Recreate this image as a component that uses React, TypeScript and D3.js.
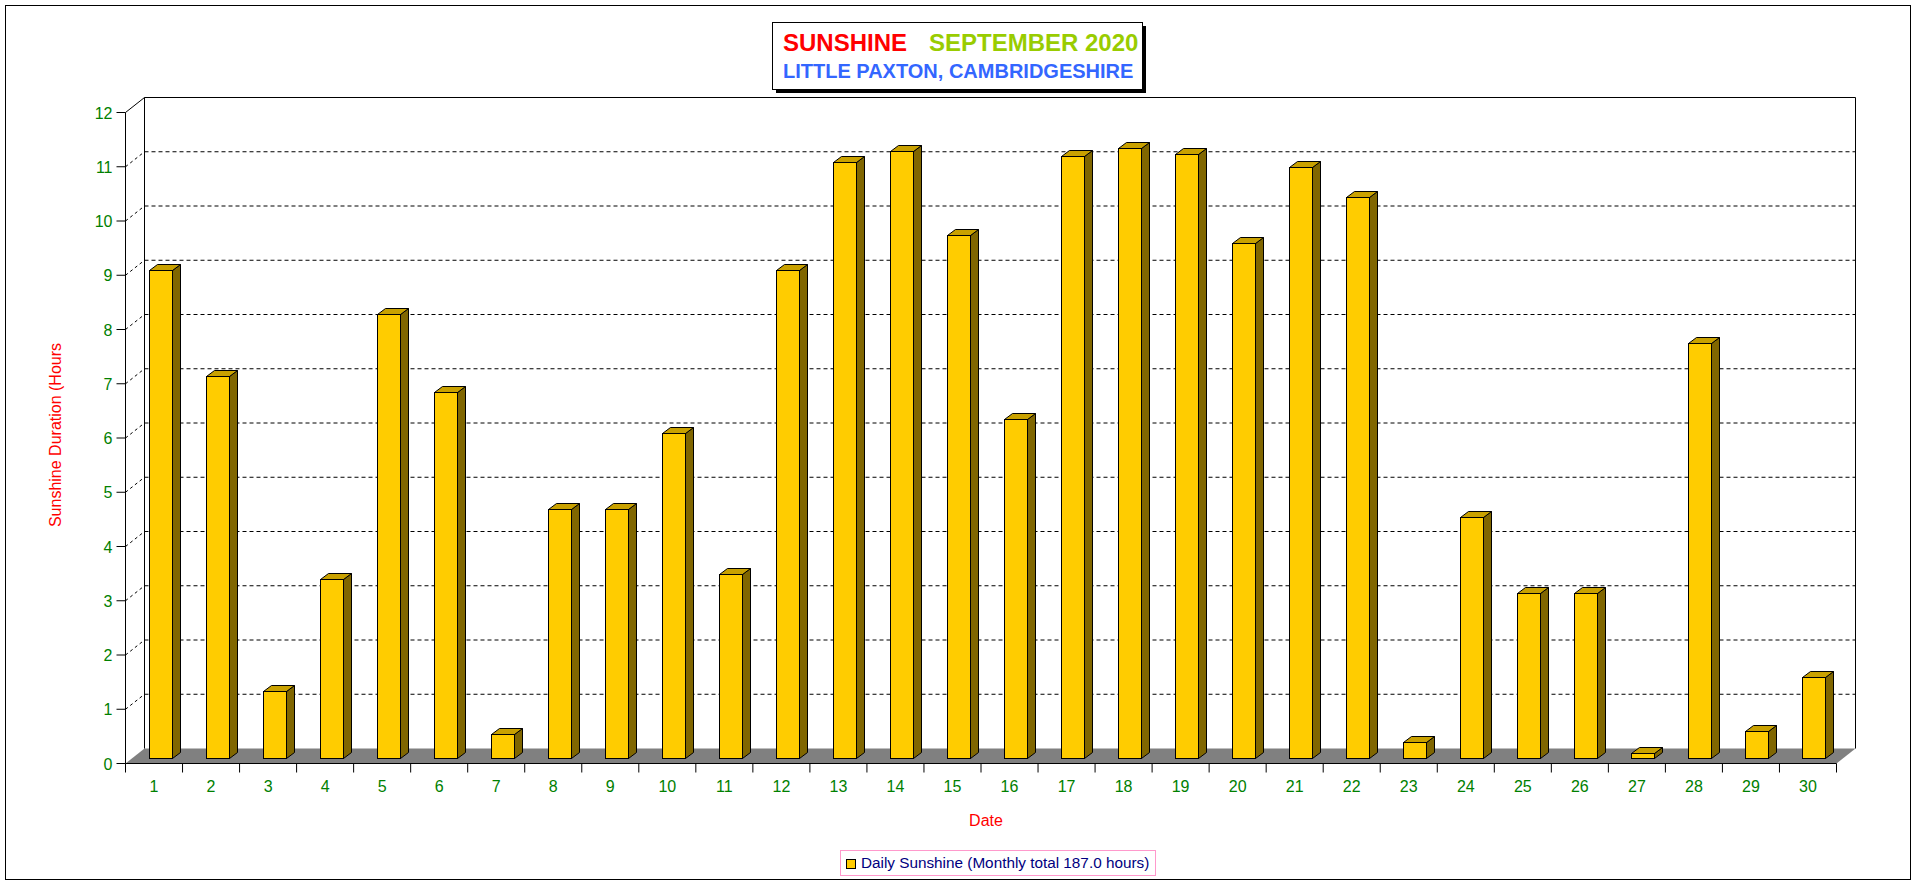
import React, { useEffect, useRef } from 'react';
import * as d3 from 'd3';

// September 2020 daily sunshine, Little Paxton
const days = d3.range(1, 31).map(String);
const sunshine = [
  9.0, 7.05, 1.25, 3.3, 8.2, 6.75, 0.45, 4.6, 4.6, 6.0,
  3.4, 9.0, 11.0, 11.2, 9.65, 6.25, 11.1, 11.25, 11.15, 9.5,
  10.9, 10.35, 0.3, 4.45, 3.05, 3.05, 0.1, 7.65, 0.5, 1.5
];
const yTicks = d3.range(0, 13);
const titleParts = ['SUNSHINE', 'SEPTEMBER 2020'];
const subtitle = 'LITTLE PAXTON, CAMBRIDGESHIRE';
const legendLabel = 'Daily Sunshine (Monthly total 187.0 hours)';

const W = 1916;
const H = 884;
const FONT = '"Liberation Sans", Arial, sans-serif';

// 3d frame
const left = 125.5;
const right = 1836.5;
const bottom = 763.5;
const top = 112.5;
const depthX = 19;
const depthY = 15;

// bars
const barW = 23;
const barDx = 8;
const barDy = 6;
const barShiftX = 6;
const barShiftY = 5;

const FRONT = '#FFCC00';
const TOPC = '#C9A100';
const SIDE = '#806600';

const App = () => {
  const rootRef = useRef<SVGSVGElement>(null);

  useEffect(() => {
    document.body.style.margin = '0';
    const svg = d3.select(rootRef.current).attr('width', W).attr('height', H);
    svg.selectAll('*').remove();

    svg.append('rect').attr('width', W).attr('height', H).attr('fill', '#fff');
    svg
      .append('rect')
      .attr('x', 5.5)
      .attr('y', 5.5)
      .attr('width', 1905)
      .attr('height', 874)
      .attr('fill', 'none')
      .attr('stroke', '#000');

    const x = d3.scaleBand<string>().domain(days).range([left, right]).padding(0);
    const y = d3.scaleLinear().domain([0, 12]).range([bottom, top]);

    // floor
    svg
      .append('polygon')
      .attr(
        'points',
        [
          [left, bottom],
          [right, bottom],
          [right + depthX, bottom - depthY],
          [left + depthX, bottom - depthY]
        ]
          .map((p) => p.join(','))
          .join(' ')
      )
      .attr('fill', '#808080');

    // back grid lines and side diagonals
    const grid = svg.append('g');
    yTicks.slice(1, 12).forEach((t) => {
      const yy = y(t);
      grid
        .append('line')
        .attr('x1', left + depthX)
        .attr('x2', right + depthX)
        .attr('y1', yy - depthY)
        .attr('y2', yy - depthY)
        .attr('stroke', '#000')
        .attr('stroke-dasharray', '4,3');
      grid
        .append('line')
        .attr('x1', left)
        .attr('x2', left + depthX)
        .attr('y1', yy)
        .attr('y2', yy - depthY)
        .attr('stroke', '#000')
        .attr('stroke-dasharray', '3,3');
    });

    // wall edges
    const edges: [number, number, number, number][] = [
      [left + depthX, top - depthY, right + depthX, top - depthY],
      [left + depthX, top - depthY, left + depthX, bottom - depthY],
      [right + depthX, top - depthY, right + depthX, bottom - depthY],
      [left, top, left + depthX, top - depthY],
      [left, top, left, bottom],
      [left, bottom, right, bottom]
    ];
    edges.forEach(([x1, y1, x2, y2]) => {
      svg
        .append('line')
        .attr('x1', x1)
        .attr('y1', y1)
        .attr('x2', x2)
        .attr('y2', y2)
        .attr('stroke', '#000');
    });

    // y ticks
    const yAxis = svg.append('g');
    yTicks.forEach((t) => {
      yAxis
        .append('line')
        .attr('x1', left - 9)
        .attr('x2', left)
        .attr('y1', y(t))
        .attr('y2', y(t))
        .attr('stroke', '#000');
      yAxis
        .append('text')
        .attr('x', left - 13)
        .attr('y', y(t) + 6)
        .attr('text-anchor', 'end')
        .attr('font-family', FONT)
        .attr('font-size', 16)
        .attr('fill', '#008000')
        .text(t);
    });

    // x ticks
    const xAxis = svg.append('g');
    [...days.map((d) => x(d) as number), right].forEach((xx) => {
      xAxis
        .append('line')
        .attr('x1', xx)
        .attr('x2', xx)
        .attr('y1', bottom)
        .attr('y2', bottom + 9)
        .attr('stroke', '#000');
    });
    days.forEach((d) => {
      xAxis
        .append('text')
        .attr('x', (x(d) as number) + x.bandwidth() / 2)
        .attr('y', 792)
        .attr('text-anchor', 'middle')
        .attr('font-family', FONT)
        .attr('font-size', 16)
        .attr('fill', '#008000')
        .text(d);
    });

    // bars
    const bars = svg
      .append('g')
      .selectAll('g')
      .data(sunshine)
      .enter()
      .append('g')
      .attr('stroke', '#000')
      .attr('stroke-linejoin', 'miter');

    const fx = (i: number) =>
      Math.round((x(days[i]) as number) + x.bandwidth() / 2 + barShiftX - barW / 2) + 0.5;
    const base = bottom - barShiftY;
    const fy = (v: number) => Math.round(y(v) - barShiftY) + 0.5;

    bars
      .append('polygon')
      .attr('fill', SIDE)
      .attr('points', (v, i) => {
        const x0 = fx(i) + barW;
        return `${x0},${fy(v)} ${x0 + barDx},${fy(v) - barDy} ${x0 + barDx},${base - barDy} ${x0},${base}`;
      });
    bars
      .append('polygon')
      .attr('fill', TOPC)
      .attr('points', (v, i) => {
        const x0 = fx(i);
        const t = fy(v);
        return `${x0},${t} ${x0 + barDx},${t - barDy} ${x0 + barW + barDx},${t - barDy} ${x0 + barW},${t}`;
      });
    bars
      .append('rect')
      .attr('fill', FRONT)
      .attr('x', (_, i) => fx(i))
      .attr('y', (v) => fy(v))
      .attr('width', barW)
      .attr('height', (v) => base - fy(v));

    // axis titles
    svg
      .append('text')
      .attr('transform', 'translate(61,435) rotate(-90)')
      .attr('text-anchor', 'middle')
      .attr('font-family', FONT)
      .attr('font-size', 16)
      .attr('fill', '#FF0000')
      .text('Sunshine Duration (Hours');
    svg
      .append('text')
      .attr('x', 986)
      .attr('y', 826)
      .attr('text-anchor', 'middle')
      .attr('font-family', FONT)
      .attr('font-size', 16)
      .attr('fill', '#FF0000')
      .text('Date');

    // title box
    const tb = svg.append('g');
    tb.append('rect')
      .attr('x', 776)
      .attr('y', 26)
      .attr('width', 370)
      .attr('height', 67)
      .attr('fill', '#000');
    tb.append('rect')
      .attr('x', 772.5)
      .attr('y', 22.5)
      .attr('width', 370)
      .attr('height', 67)
      .attr('fill', '#fff')
      .attr('stroke', '#000');
    tb.append('text')
      .attr('x', 783)
      .attr('y', 51)
      .attr('font-family', FONT)
      .attr('font-weight', 'bold')
      .attr('font-size', 24)
      .attr('fill', '#FF0000')
      .text(titleParts[0]);
    tb.append('text')
      .attr('x', 929)
      .attr('y', 51)
      .attr('font-family', FONT)
      .attr('font-weight', 'bold')
      .attr('font-size', 24)
      .attr('fill', '#99CC00')
      .text(titleParts[1]);
    tb.append('text')
      .attr('x', 783)
      .attr('y', 78)
      .attr('font-family', FONT)
      .attr('font-weight', 'bold')
      .attr('font-size', 20)
      .attr('fill', '#3366FF')
      .text(subtitle);

    // legend
    const lg = svg.append('g');
    lg.append('rect')
      .attr('x', 840.5)
      .attr('y', 850.5)
      .attr('width', 315)
      .attr('height', 25)
      .attr('fill', '#fff')
      .attr('stroke', '#FF99CC');
    lg.append('rect')
      .attr('x', 846.5)
      .attr('y', 859.5)
      .attr('width', 9)
      .attr('height', 9)
      .attr('fill', FRONT)
      .attr('stroke', '#000');
    lg.append('text')
      .attr('x', 861)
      .attr('y', 868)
      .attr('font-family', FONT)
      .attr('font-size', 15.3)
      .attr('fill', '#000080')
      .text(legendLabel);
  }, []);

  return <svg ref={rootRef} style={{ display: 'block' }}></svg>;
};

export default App;
